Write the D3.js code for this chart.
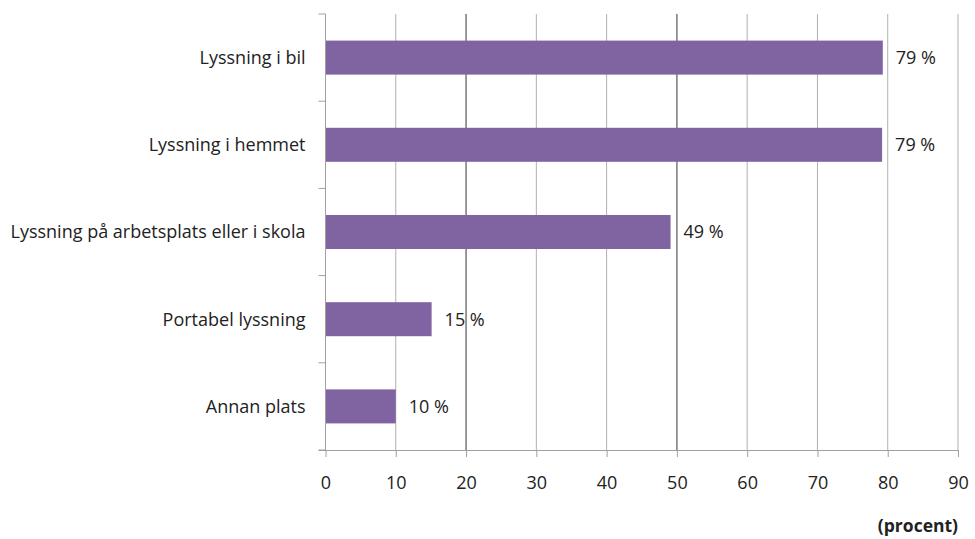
<!DOCTYPE html>
<html>
<head>
<meta charset="utf-8">
<script src="https://cdn.jsdelivr.net/npm/d3@7"></script>
<style>
  body { margin: 0; background: #fff; }
  text { font-family: "Open Sans", "Liberation Sans", sans-serif; fill: #222; }
</style>
</head>
<body>
<svg id="chart" width="975" height="539"></svg>
<script>
// --- Datos ---
const categories = ['Lyssning i bil', 'Lyssning i hemmet', 'Lyssning på arbetsplats eller i skola', 'Portabel lyssning', 'Annan plats'];
const values = [79.3, 79.2, 49.1, 15.1, 10.0];
const valueLabels = ['79 %', '79 %', '49 %', '15 %', '10 %'];
const xTicks = [0, 10, 20, 30, 40, 50, 60, 70, 80, 90];
const darkGrid = [20, 50];

const svg = d3.select('#chart');
const plotLeft = 325.5, plotRight = 958, plotTop = 14, plotBottom = 450;

const x = d3.scaleLinear().domain([0, 90]).range([plotLeft, plotRight]);
const y = d3.scaleBand().domain(categories).range([plotTop, plotBottom]).paddingInner(0.61).paddingOuter(0.305);

// --- Rejilla ---
svg.append('g').selectAll('line')
  .data(xTicks.slice(1))
  .enter().append('line')
  .attr('x1', d => x(d)).attr('x2', d => x(d))
  .attr('y1', plotTop).attr('y2', plotBottom)
  .attr('stroke', d => darkGrid.includes(d) ? '#808080' : '#b0b0b0')
  .attr('stroke-width', d => darkGrid.includes(d) ? 1.6 : 1);

// --- Barras ---
svg.append('g').selectAll('rect')
  .data(categories)
  .enter().append('rect')
  .attr('x', x(0))
  .attr('y', d => y(d))
  .attr('width', (d, i) => x(values[i]) - x(0))
  .attr('height', y.bandwidth())
  .attr('fill', '#8064a2');

// --- Ejes ---
const xAxis = svg.append('g')
  .attr('transform', `translate(0,${plotBottom})`)
  .call(d3.axisBottom(x).tickValues(xTicks).tickSize(7).tickPadding(19).tickSizeOuter(0));
xAxis.select('.domain').attr('stroke', '#a0a0a0').attr('d', `M${plotLeft - 7},0.5H${plotRight}`);
xAxis.selectAll('.tick line').attr('stroke', '#a0a0a0');
xAxis.selectAll('.tick text').attr('font-size', 18).attr('fill', '#222');

const yBounds = d3.range(categories.length + 1).map(i => plotTop + i * (plotBottom - plotTop) / categories.length);
const yAxis = svg.append('g');
yAxis.append('line')
  .attr('x1', plotLeft).attr('x2', plotLeft).attr('y1', plotTop).attr('y2', plotBottom)
  .attr('stroke', '#a0a0a0');
yAxis.selectAll('.tk').data(yBounds).enter().append('line')
  .attr('x1', plotLeft - 7).attr('x2', plotLeft).attr('y1', d => d).attr('y2', d => d)
  .attr('stroke', '#a0a0a0');
yAxis.selectAll('text').data(categories).enter().append('text')
  .attr('x', plotLeft - 20)
  .attr('y', d => y(d) + y.bandwidth() / 2)
  .attr('dy', '0.35em')
  .attr('text-anchor', 'end')
  .attr('font-size', 18)
  .text(d => d);

// --- Etiquetas de valores ---
svg.append('g').selectAll('text')
  .data(categories)
  .enter().append('text')
  .attr('x', (d, i) => x(values[i]) + 13)
  .attr('y', d => y(d) + y.bandwidth() / 2)
  .attr('dy', '0.35em')
  .attr('font-size', 18)
  .text((d, i) => valueLabels[i]);

svg.append('text')
  .attr('x', 958).attr('y', 532)
  .attr('text-anchor', 'end')
  .attr('font-size', 17.5)
  .attr('font-weight', 'bold')
  .text('(procent)');
</script>
</body>
</html>
